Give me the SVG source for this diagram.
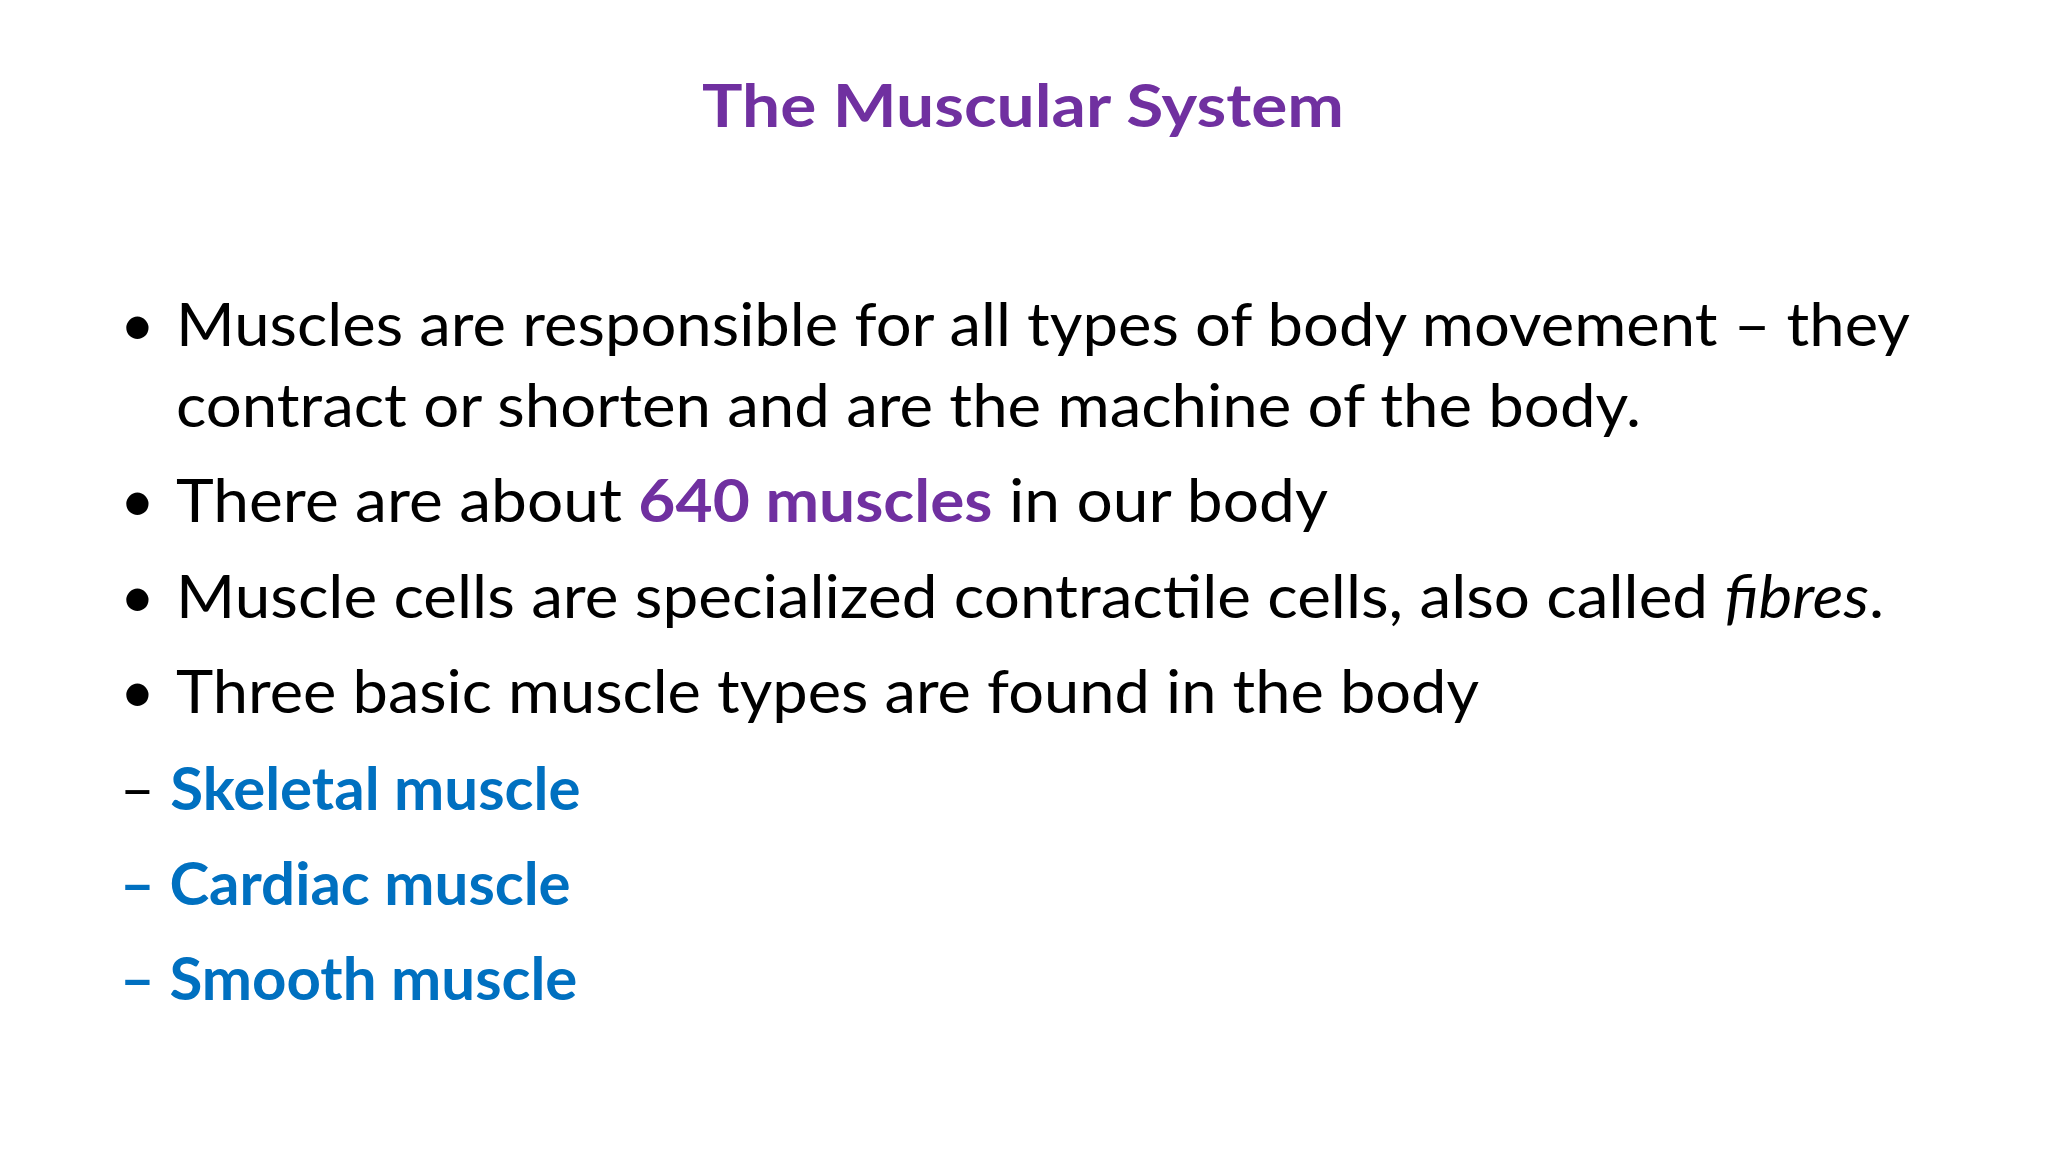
<svg xmlns="http://www.w3.org/2000/svg" width="2048" height="1152" viewBox="0 0 2048 1152">
<style>
text{font-family:Lato,"Liberation Sans",sans-serif;font-size:60px;fill:#000}
.p{fill:#7030A0;font-weight:bold}
.b{fill:#0070C0;font-weight:bold}
</style>
<rect width="2048" height="1152" fill="#fff"/>
<g id="title"><text x="1023" y="127" text-anchor="middle" class="p" font-size="64" textLength="642" lengthAdjust="spacingAndGlyphs">The Muscular System</text></g>
<g id="body">
<text x="120" y="346">•</text>
<text x="176" y="346" textLength="1734" lengthAdjust="spacingAndGlyphs">Muscles are responsible for all types of body movement – they</text>
<text x="176" y="427" textLength="1465" lengthAdjust="spacingAndGlyphs">contract or shorten and are the machine of the body.</text>
<text x="120" y="522">•</text>
<text x="176" y="522" textLength="1152" lengthAdjust="spacingAndGlyphs">There are about <tspan class="p">640  muscles</tspan> in our body</text>
<text x="120" y="618">•</text>
<text x="176" y="618" textLength="1708" lengthAdjust="spacingAndGlyphs">Muscle cells are specialized contractile cells, also called <tspan font-style="italic">fibres</tspan>.</text>
<text x="120" y="713">•</text>
<text x="176" y="713" textLength="1303" lengthAdjust="spacingAndGlyphs">Three basic muscle types are found in the body</text>
<text x="120" y="810">– <tspan class="b">Skeletal muscle</tspan></text>
<text x="120" y="905" class="b">– Cardiac muscle</text>
<text x="120" y="1000" class="b">– Smooth muscle</text>
</g>
</svg>
